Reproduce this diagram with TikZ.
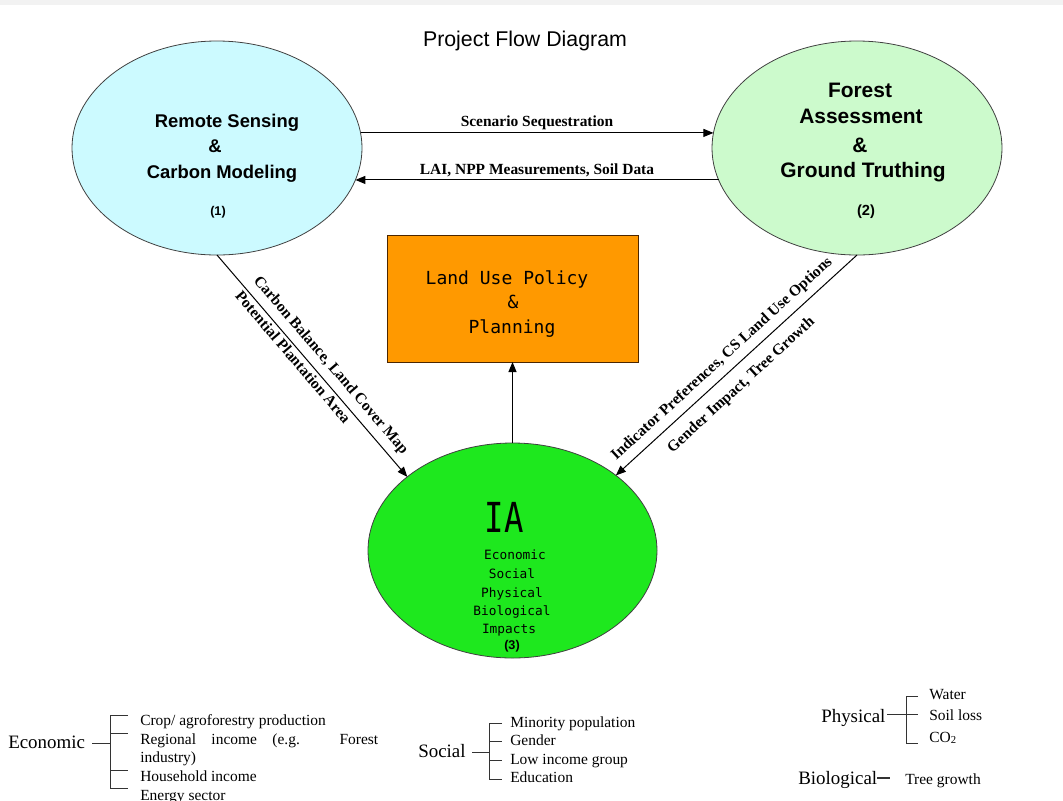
\documentclass[tikz,border=0pt]{standalone}
\usepackage{fontspec}
\setmainfont{Liberation Serif}
\newfontfamily\arialf{Liberation Sans}
\newfontfamily\monof{DejaVu Sans Mono}
\usetikzlibrary{arrows.meta,shapes.geometric}
\definecolor{cyanA}{RGB}{204,250,255}
\definecolor{greenA}{RGB}{204,250,204}
\definecolor{greenB}{RGB}{30,232,30}
\definecolor{orangeA}{RGB}{255,153,0}
\begin{document}
\begin{tikzpicture}[x=0.75pt,y=-0.75pt,
  arr/.style={draw=black, line width=0.75pt, -{Triangle[length=7.5pt,width=6pt]}},
  bub/.style={ellipse, draw=black!75, line width=0.6pt, inner sep=0pt, outer sep=0pt},
  lbl/.style={font=\fontsize{11.6}{13}\selectfont\bfseries, inner sep=2pt},
  sA/.style={font=\arialf\fontsize{13.8}{15}\selectfont\bfseries, inner sep=0pt, anchor=base},
  sB/.style={font=\arialf\fontsize{15.7}{17}\selectfont\bfseries, inner sep=0pt, anchor=base},
  mI/.style={font=\monof\fontsize{9.6}{11}\selectfont, inner sep=0pt, anchor=base},
  mB/.style={font=\monof\fontsize{13.5}{15}\selectfont, inner sep=0pt, anchor=base},
  legH/.style={font=\fontsize{14.2}{16}\selectfont, inner sep=0pt, anchor=base west},
  legI/.style={font=\fontsize{11.6}{13}\selectfont, inner sep=0pt, anchor=base west},
  brk/.style={draw=black!80, line width=0.75pt}
]
\useasboundingbox (0,0) rectangle (1063,800);
\fill[gray!10] (0,0) rectangle (1063,5);

% title
\node[font=\arialf\fontsize{16}{18}\selectfont, inner sep=0pt, anchor=base] (title) at (525,46) {Project Flow Diagram};

% main shapes
\node[bub, fill=cyanA, minimum width=217.5pt, minimum height=160.5pt] (e1) at (217,148) {};
\node[bub, fill=greenA, minimum width=217.5pt, minimum height=160.5pt] (e2) at (857,148) {};
\node[bub, fill=greenB, minimum width=216.75pt, minimum height=161.25pt] (ia) at (512.5,550.5) {};
\node[draw=black!70!orange, line width=0.75pt, fill=orangeA, inner sep=0pt, outer sep=0pt,
      minimum width=188.25pt, minimum height=95.25pt] (box) at (512.5,298.5) {};

% texts in ellipse 1
\node[sA] (t1a) at (227,127) {Remote Sensing};
\node[sA] (t1b) at (215,152) {\&};
\node[sA] (t1c) at (222,178) {Carbon Modeling};
\node[sA, font=\arialf\fontsize{9.5}{11}\selectfont\bfseries] (t1d) at (218,215) {(1)};

% texts in ellipse 2
\node[sB] (t2a) at (860,97) {Forest};
\node[sB] (t2b) at (861,123) {Assessment};
\node[sB] (t2c) at (860,152) {\&};
\node[sB] (t2d) at (863,177) {Ground Truthing};
\node[sA, font=\arialf\fontsize{11}{12}\selectfont\bfseries] (t2e) at (866,215) {(2)};

% box texts
\node[mB] (tba) at (507,284) {Land Use Policy};
\node[mB] (tbb) at (513,308) {\&};
\node[mB] (tbc) at (512,333) {Planning};

% IA texts
\node[font=\monof\fontsize{31}{33}\selectfont, inner sep=0pt, anchor=base, xscale=0.78] (tia) at (504,532) {IA};
\node[mI] (ia1) at (515,559) {Economic};
\node[mI] (ia2) at (512,578) {Social};
\node[mI] (ia3) at (512,597) {Physical};
\node[mI] (ia4) at (512,615) {Biological};
\node[mI] (ia5) at (509,633) {Impacts};
\node[mI, font=\arialf\fontsize{9.5}{11}\selectfont\bfseries] (ia6) at (512,649) {(3)};

% connectors
\draw[arr] (e1.6) -- node[lbl, above=0pt] (l1) {Scenario Sequestration} (e2.174);
\draw[arr] (e2.-167) -- node[lbl, above=0pt] (l2) {LAI, NPP Measurements, Soil Data} (e1.-13);
\draw[arr] (e1.south) --
  node[lbl, sloped, above=3pt, pos=0.54] (l3) {Carbon Balance, Land Cover Map}
  node[lbl, sloped, below=0pt, pos=0.435] (l4) {Potential Plantation Area} (ia.145);
\draw[arr] (e2.south) --
  node[lbl, sloped, above=3pt, pos=0.52] (l5) {Indicator Preferences, CS Land Use Options}
  node[lbl, sloped, below=6pt, pos=0.53] (l6) {Gender Impact, Tree Growth} (ia.36);
\draw[arr] (ia.north) -- (box.south);

% legend: Economic
\node[legH] (ec) at (8,748) {Economic};
\draw[brk] (92,743) -- (110,743);
\draw[brk] (128,715) -- (110,715) -- (110,788) -- (128,788);
\draw[brk] (110,733) -- (128,733);
\draw[brk] (110,770) -- (128,770);
\node[legI] (ec1) at (140,725) {Crop/ agroforestry production};
\node[legI] (ec2) at (140,744) {\makebox[178.5pt][s]{Regional income (e.g. Forest}};
\node[legI] (ec3) at (140,762.5) {industry)};
\node[legI] (ec4) at (140,781) {Household income};
\node[legI] (ec5) at (140,800) {Energy sector};

% legend: Social
\node[legH] (so) at (418,757) {Social};
\draw[brk] (472,752) -- (489,752);
\draw[brk] (502,723) -- (489,723) -- (489,779) -- (502,779);
\draw[brk] (489,741) -- (502,741);
\draw[brk] (489,760) -- (502,760);
\node[legI] (so1) at (510,727) {Minority population};
\node[legI] (so2) at (510,745) {Gender};
\node[legI] (so3) at (510,764) {Low income group};
\node[legI] (so4) at (510,782) {Education};

% legend: Physical
\node[legH] (ph) at (821,722) {Physical};
\draw[brk] (887,714) -- (918,714);
\draw[brk] (918,696) -- (906,696) -- (906,743) -- (918,743);
\node[legI] (ph1) at (929,699) {Water};
\node[legI] (ph2) at (929,720) {Soil loss};
\node[legI] (ph3) at (929,742) {CO\raisebox{-0.15ex}{\fontsize{8}{9}\selectfont 2}};

% legend: Biological
\node[legH] (bi) at (798,784) {Biological};
\draw[brk, line width=1.1pt] (877,778) -- (890,778);
\node[legI] (bi1) at (905,784) {Tree growth};
\end{tikzpicture}
\end{document}
